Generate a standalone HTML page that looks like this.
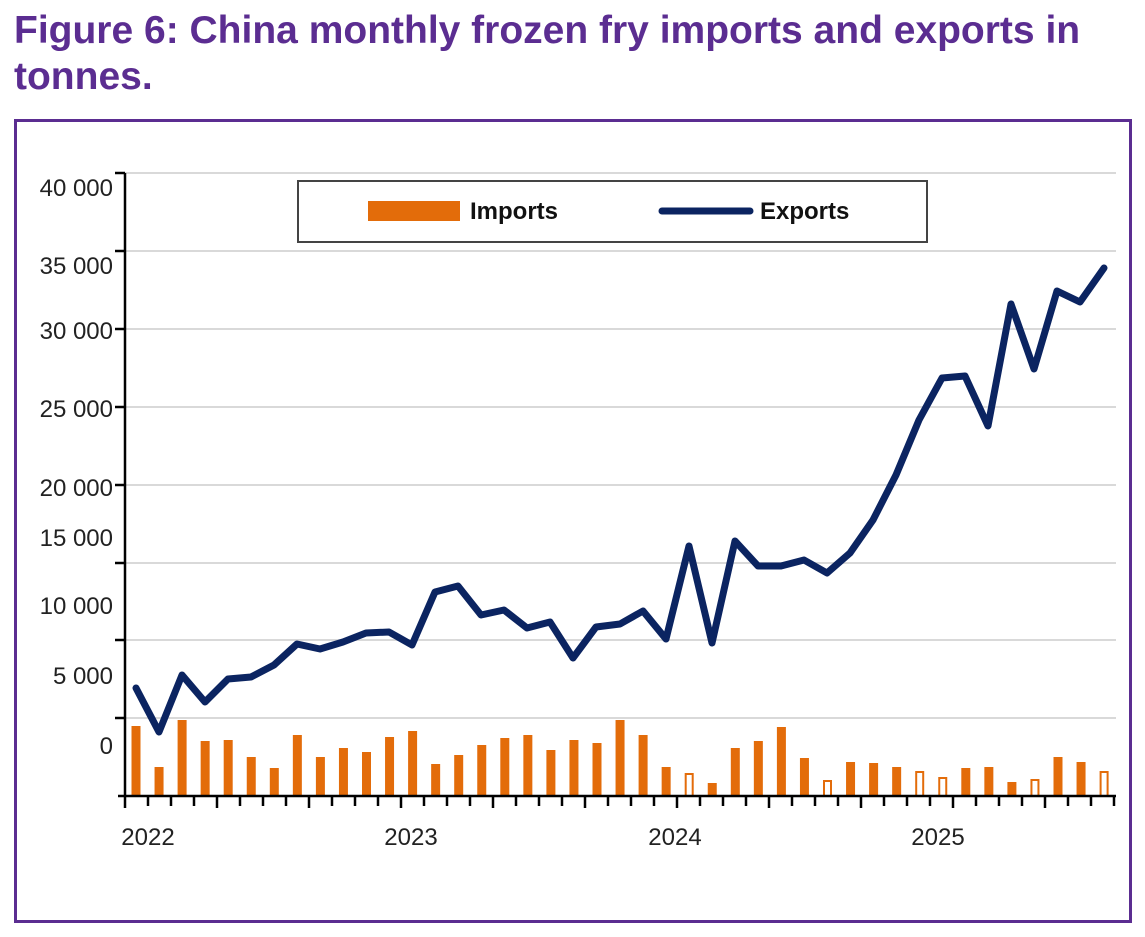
<!DOCTYPE html><html><head><style>body{margin:0;background:#fff;width:1145px;height:937px;overflow:hidden;font-family:"Liberation Sans",sans-serif}
h1{position:absolute;left:14px;top:8px;margin:0;font-size:39px;line-height:46px;color:#5b2d91;font-weight:bold;width:1125px;white-space:nowrap}
.frame{position:absolute;left:14px;top:119px;width:1112px;height:798px;border:3px solid #5b2d91}</style></head><body>
<h1>Figure 6: China monthly frozen fry imports and exports in<br>tonnes.</h1>
<div class="frame"></div>
<svg width="1145" height="937" style="position:absolute;left:0;top:0" font-family="Liberation Sans, sans-serif">
<g stroke="#d9d9d9" stroke-width="2">
<line x1="125" x2="1116" y1="173" y2="173"/><line x1="125" x2="1116" y1="251" y2="251"/><line x1="125" x2="1116" y1="329" y2="329"/><line x1="125" x2="1116" y1="407" y2="407"/><line x1="125" x2="1116" y1="485" y2="485"/><line x1="125" x2="1116" y1="563" y2="563"/><line x1="125" x2="1116" y1="640" y2="640"/><line x1="125" x2="1116" y1="718" y2="718"/></g>
<g fill="#222" font-size="24" text-anchor="end">
<text x="113" y="196">40 000</text><text x="113" y="274">35 000</text><text x="113" y="339">30 000</text><text x="113" y="417">25 000</text><text x="113" y="496">20 000</text><text x="113" y="546">15 000</text><text x="113" y="614">10 000</text><text x="113" y="684">5 000</text><text x="113" y="754">0</text></g>
<g id="bars" fill="#e36c0a"></g>
<polyline fill="none" stroke="#0b2461" stroke-width="7" stroke-linejoin="round" stroke-linecap="round" points="136,688 159,732 182,675 205,702 228,679 251,677 274,665 297,644 320,649 343,642 366,633 389,632 412,645 435,592 458,586 481,615 504,610 527,628 550,622 573,658 596,627 620,624 643,611 666,639 689,546 712,643 735,541 758,566 781,566 804,560 827,573 850,553 873,520 896,475 919,420 942,378 965,376 988,426 1011,304 1034,369 1057,291 1080,302 1104,268"/>
<g stroke="#000" stroke-width="2.5"><line x1="125" y1="173" x2="125" y2="797"/><line x1="118" y1="796" x2="1116" y2="796"/>
<line x1="115" y1="173" x2="125" y2="173"/><line x1="115" y1="251" x2="125" y2="251"/><line x1="115" y1="329" x2="125" y2="329"/><line x1="115" y1="407" x2="125" y2="407"/><line x1="115" y1="485" x2="125" y2="485"/><line x1="115" y1="563" x2="125" y2="563"/><line x1="115" y1="640" x2="125" y2="640"/><line x1="115" y1="718" x2="125" y2="718"/></g>
<g id="ticks" stroke="#000" stroke-width="2.5"></g>
<g fill="#222" font-size="24" text-anchor="middle"><text x="148" y="845">2022</text><text x="411" y="845">2023</text><text x="675" y="845">2024</text><text x="938" y="845">2025</text></g>
<rect x="298" y="181" width="629" height="61" fill="#fff" stroke="#444" stroke-width="2"/>
<rect x="368" y="201" width="92" height="20" fill="#e36c0a"/>
<text x="470" y="219" font-size="24" font-weight="bold" fill="#111">Imports</text>
<line x1="662" y1="211" x2="750" y2="211" stroke="#0b2461" stroke-width="7" stroke-linecap="round"/>
<text x="760" y="219" font-size="24" font-weight="bold" fill="#111">Exports</text>
</svg>
<script>
var t=[726,767,720,741,740,757,768,735,757,748,752,737,731,764,755,745,738,735,750,740,743,720,735,767,-773,783,748,741,727,758,-780,762,763,767,-771,-777,768,767,782,-779,757,762,-771];
var b='',tk='';
t.forEach(function(v,i){var x=136+i*23.05;var h=Math.abs(v);
if(v>0)b+='<rect x="'+(x-4.5)+'" y="'+h+'" width="9" height="'+(796-h)+'"/>';
else b+='<rect x="'+(x-3.5)+'" y="'+(h+1)+'" width="7" height="'+(795-h)+'" fill="#fff" stroke="#e36c0a" stroke-width="2"/>';});
for(var k=0;k<=43;k++){var x=125+k*23;tk+='<line x1="'+x+'" x2="'+x+'" y1="796" y2="'+(k%4==0?808:806)+'"/>';}
document.getElementById('bars').innerHTML=b;document.getElementById('ticks').innerHTML=tk;
</script>
</body></html>
